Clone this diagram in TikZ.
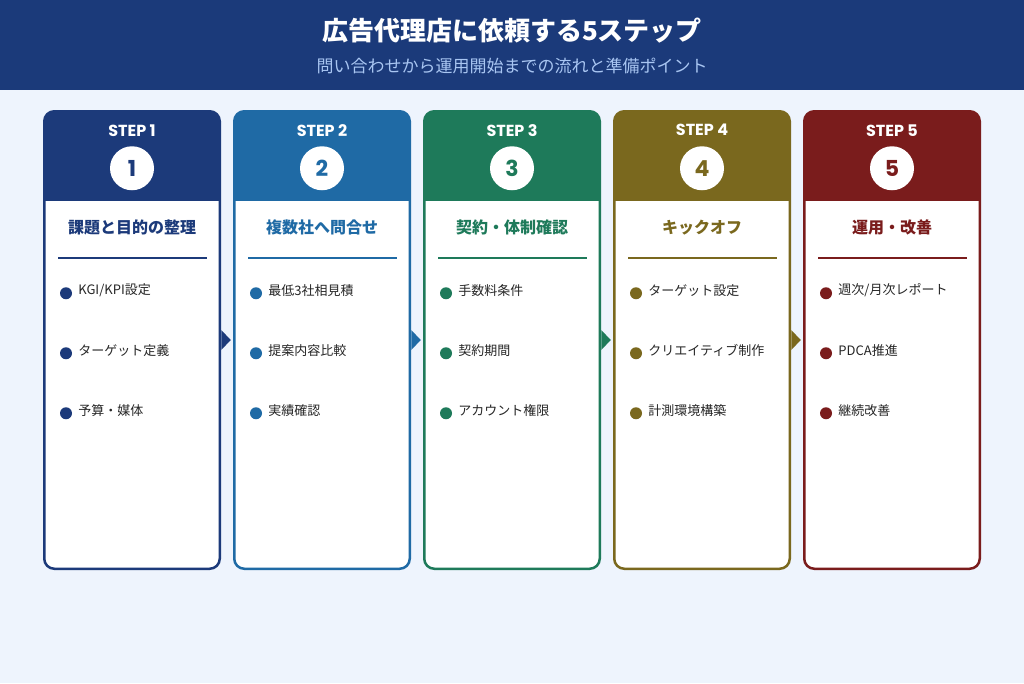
\documentclass[tikz,border=0pt]{standalone}
\usepackage{fontspec}
\setmainfont{Noto Sans CJK JP}
\newfontfamily\popfont{Poppins}
\definecolor{headbg}{HTML}{1B3A7A}
\definecolor{pagebg}{HTML}{EEF4FD}
\definecolor{subblue}{HTML}{A9C6F2}
\definecolor{itemgray}{HTML}{262626}
\definecolor{stepA}{HTML}{1C3A7A}
\definecolor{stepB}{HTML}{1F6AA5}
\definecolor{stepC}{HTML}{1E7A5A}
\definecolor{stepD}{HTML}{7A681E}
\definecolor{stepE}{HTML}{7A1C1C}
\newcommand{\fsz}[1]{\fontsize{#1}{#1}\selectfont}
\tikzset{
  card/.style={draw=#1, fill=white, line width=2.5pt, rounded corners=10pt,
    minimum width=175.5pt, minimum height=457.5pt, inner sep=0pt, outer sep=0pt,
    path picture={\fill[#1, sharp corners] (path picture bounding box.north west)
      rectangle ([yshift=-90pt]path picture bounding box.north east);}},
  steplabel/.style={text=white, font=\popfont\bfseries\fsz{16}},
  numdisc/.style={circle, fill=white, minimum size=44pt, inner sep=0pt,
    text=#1, font=\popfont\bfseries\fsz{22}},
  cardtitle/.style={text=#1, font=\bfseries\fsz{16}},
  bulletdot/.style={circle, fill=#1, minimum size=12pt, inner sep=0pt},
  itemtext/.style={anchor=west, text=itemgray, font=\fsz{13}, inner sep=0pt}
}
\begin{document}
\begin{tikzpicture}[x=1pt, y=-1pt]
  \useasboundingbox (0,0) rectangle (1024,683);
  \fill[pagebg] (0,0) rectangle (1024,683);
  % header band
  \fill[headbg] (0,0) rectangle (1024,90);
  \node[text=white, font=\bfseries\fsz{26}] (title) at (512,31) {広告代理店に依頼する5ステップ};
  \node[text=subblue, font=\fsz{17}] (subtitle) at (512,66) {問い合わせから運用開始までの流れと準備ポイント};
  % step cards
  \foreach \i/\col/\ttl/\ia/\ib/\ic in {
      1/stepA/課題と目的の整理/{KGI/KPI設定}/ターゲット定義/予算・媒体,
      2/stepB/複数社へ問合せ/最低3社相見積/提案内容比較/実績確認,
      3/stepC/契約・体制確認/手数料条件/契約期間/アカウント権限,
      4/stepD/キックオフ/ターゲット設定/クリエイティブ制作/計測環境構築,
      5/stepE/運用・改善/{週次/月次レポート}/PDCA推進/継続改善}{
    \node[card=\col] (card\i) at ({132+190*(\i-1)},340) {};
    \node[steplabel] (step\i) at ([yshift=-19pt]card\i.north) {STEP \i};
    \node[numdisc=\col] (num\i) at ([yshift=-57pt]card\i.north) {\i};
    \node[cardtitle=\col] (head\i) at ([yshift=-116pt]card\i.north) {\ttl};
    \draw[\col, line width=2pt] ([xshift=-74pt,yshift=-147pt]card\i.north)
      -- ([xshift=75pt,yshift=-147pt]card\i.north);
    \node[bulletdot=\col] (dot\i a) at ([xshift=-66pt,yshift=-182pt]card\i.north) {};
    \node[bulletdot=\col] (dot\i b) at ([xshift=-66pt,yshift=-242pt]card\i.north) {};
    \node[bulletdot=\col] (dot\i c) at ([xshift=-66pt,yshift=-302pt]card\i.north) {};
    \node[itemtext] (item\i a) at ([xshift=6pt,yshift=3pt]dot\i a.east) {\ia};
    \node[itemtext] (item\i b) at ([xshift=6pt,yshift=3pt]dot\i b.east) {\ib};
    \node[itemtext] (item\i c) at ([xshift=6pt,yshift=3pt]dot\i c.east) {\ic};
  }
  % small arrows between the cards
  \foreach \i/\col in {1/stepA,2/stepB,3/stepC,4/stepD}{
    \fill[\col] ([xshift=1.5pt,yshift=10pt]card\i.east)
      -- ([xshift=11pt]card\i.east)
      -- ([xshift=1.5pt,yshift=-10pt]card\i.east) -- cycle;
  }
\end{tikzpicture}
\end{document}
